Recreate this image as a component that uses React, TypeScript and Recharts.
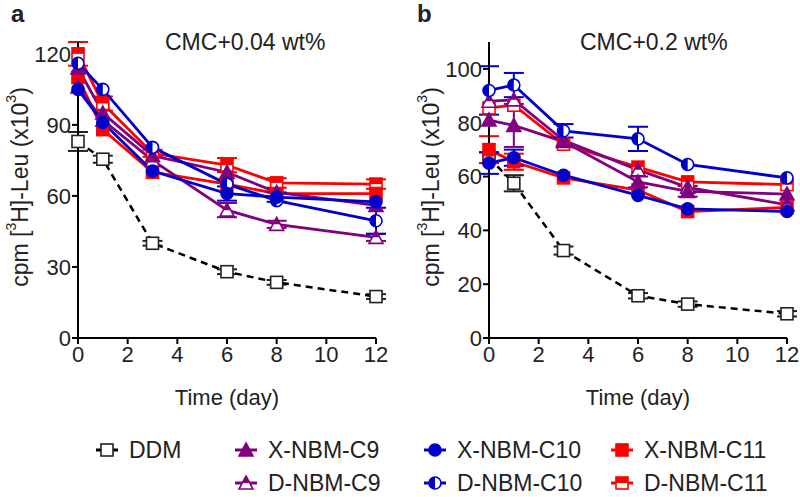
import React from 'react'
import { LineChart, Line, XAxis, YAxis, ErrorBar } from 'recharts'

const FONT = 'Arial, "Liberation Sans", sans-serif'

const days = [0, 1, 3, 6, 8, 12]
const xTicks = [0, 2, 4, 6, 8, 10, 12]

// panel a — CMC+0.04 wt%
const ticksA = [0, 30, 60, 90, 120]
const ddmA = [83, 75.5, 40, 28, 23.5, 17.5]
const xc9A = [114, 95, 77, 70, 61.5, 56]
const dc9A = [106, 92, 75, 54, 48, 42.5]
const xc10A = [105, 91, 70.5, 61, 59.5, 57.5]
const dc10A = [116, 105, 80.5, 65, 58, 49.5]
const xc11A = [110, 88, 70, 65, 61, 61]
const dc11A = [120, 99, 78, 73, 65.5, 65]
const errDdmA = [4, 1.5, 1, 1, 1, 1]
const errDc9A = [null, null, null, 3, 1.5, 1.5]
const errXc10A = [null, null, null, 3, 2, null]
const errDc10A = [null, null, null, null, null, 5.5]
const errDc11A = [5, 3, 1.5, 3, 2, 2]

// panel b — CMC+0.2 wt%
const ticksB = [0, 20, 40, 60, 80, 100]
const ddmB = [67, 57.5, 32.5, 15.7, 12.6, 9]
const xc9B = [81, 79, 73, 58, 54.5, 53.5]
const dc9B = [88, 88.5, 73.5, 62.5, 56, 49.5]
const xc10B = [65, 67, 60.5, 53, 48, 47]
const dc10B = [92, 94, 77, 74, 64.5, 59.5]
const xc11B = [70, 65.5, 59.5, 55, 47, 48.5]
const dc11B = [85.5, 86.5, 72, 63.5, 58, 57]
const errDdmB = [2, 3, 1.5, 1, 1, 1]
const errXc9B = [null, 8, null, 2, 2, null]
const errXc10B = [4, 3, null, null, null, null]
const errDc10B = [9, 4.5, 2.5, 4.5, null, null]
const errXc11B = [5, 3, null, null, null, null]

const PURPLE = '#800080'
const BLUE = '#0000cc'
const RED = '#ff0000'

type Shape = 'square' | 'circle' | 'triangle'

function Marker({ cx, cy, shape, color, half, open }: any) {
  if (cx == null || cy == null) return null
  const r = 6
  if (shape === 'square') {
    return (
      <g>
        <rect x={cx - r} y={cy - r} width={2 * r} height={2 * r} fill={open || half ? '#fff' : color} stroke={color} strokeWidth={1.6} />
        {half && <rect x={cx - r} y={cy - r} width={2 * r} height={r} fill={color} />}
      </g>
    )
  }
  if (shape === 'circle') {
    return (
      <g>
        <circle cx={cx} cy={cy} r={r} fill={half ? '#fff' : color} stroke={color} strokeWidth={1.6} />
        {half && <path d={`M${cx},${cy - r} A${r},${r} 0 0 0 ${cx},${cy + r} Z`} fill={color} />}
      </g>
    )
  }
  const t = r + 1
  return (
    <g>
      <polygon points={`${cx},${cy - t} ${cx + t},${cy + r} ${cx - t},${cy + r}`} fill={half ? '#fff' : color} stroke={color} strokeWidth={1.6} />
      {half && <polygon points={`${cx},${cy - t} ${cx + t / 2},${cy} ${cx - t / 2},${cy}`} fill={color} />}
    </g>
  )
}

function YLabel({ viewBox }: any) {
  const x = viewBox.x + viewBox.width - 58
  const y = viewBox.y + viewBox.height / 2 - 3
  return (
    <text x={x} y={y} transform={`rotate(-90 ${x} ${y})`} textAnchor="middle" dominantBaseline="central" fontSize={23} fontFamily={FONT} fill="#222">
      cpm [<tspan dy={-9} fontSize={14}>3</tspan><tspan dy={9}>H]-Leu (x10</tspan><tspan dy={-9} fontSize={14}>3</tspan><tspan dy={9}>)</tspan>
    </text>
  )
}

interface Series {
  key: string
  values: number[]
  errors?: (number | null)[]
  color: string
  shape: Shape
  half?: boolean
  dashed?: boolean
}

function Panel({ series, ticks, top, width, marginRight, axisWidth }: { series: Series[]; ticks: number[]; top: number; width: number; marginRight: number; axisWidth: number }) {
  const rows = days.map((d, i) => {
    const row: any = { day: d }
    series.forEach(s => {
      row[s.key] = s.values[i]
      if (s.errors) row[s.key + 'Err'] = s.errors[i]
    })
    return row
  })
  return (
    <LineChart width={width} height={410} data={rows} margin={{ top: 42, right: marginRight, left: 0, bottom: 0 }}>
      <XAxis
        type="number" dataKey="day" domain={[0, 12]} ticks={xTicks} interval={0}
        axisLine={{ stroke: '#000', strokeWidth: 2 }} tickLine={{ stroke: '#000', strokeWidth: 2 }} tickSize={6} tickMargin={2}
        tick={{ fill: '#222', fontSize: 22, fontFamily: FONT }} height={72}
        label={{ value: 'Time (day)', position: 'insideBottom', offset: 5, fill: '#222', fontSize: 22, fontFamily: FONT }}
      />
      <YAxis
        type="number" domain={[0, top]} ticks={ticks} interval={0} width={axisWidth}
        axisLine={{ stroke: '#000', strokeWidth: 2 }} tickLine={{ stroke: '#000', strokeWidth: 2 }} tickSize={6} tickMargin={1}
        tick={{ fill: '#222', fontSize: 22, fontFamily: FONT }}
        label={<YLabel />}
      />
      {series.map(s => (
        <Line
          key={s.key} dataKey={s.key} type="linear" stroke={s.dashed ? '#000' : s.color}
          strokeWidth={s.dashed ? 2.5 : 2.8} strokeDasharray={s.dashed ? '7 5' : undefined}
          isAnimationActive={false} activeDot={false}
          dot={(p: any) => <Marker key={s.key + p.index} cx={p.cx} cy={p.cy} shape={s.shape} color={s.color} half={s.half} open={s.dashed} />}
        >
          {s.errors && <ErrorBar dataKey={s.key + 'Err'} width={10} strokeWidth={2} stroke={s.color} direction="y" />}
        </Line>
      ))}
    </LineChart>
  )
}

function LegendIcon({ shape, color, half, dashed }: any) {
  return (
    <svg width={24} height={16} style={{ display: 'block' }}>
      <line x1={1} y1={8} x2={23} y2={8} stroke={dashed ? '#000' : color} strokeWidth={3} />
      <Marker cx={12} cy={8} shape={shape} color={color} half={half} open={dashed} />
    </svg>
  )
}

const legendItems = [
  { label: 'DDM', x: 95, y: 450, shape: 'square', color: '#222', dashed: true },
  { label: 'X-NBM-C9', x: 234, y: 450, shape: 'triangle', color: PURPLE },
  { label: 'D-NBM-C9', x: 234, y: 483, shape: 'triangle', color: PURPLE, half: true },
  { label: 'X-NBM-C10', x: 423, y: 450, shape: 'circle', color: BLUE },
  { label: 'D-NBM-C10', x: 423, y: 483, shape: 'circle', color: BLUE, half: true },
  { label: 'X-NBM-C11', x: 610, y: 450, shape: 'square', color: RED },
  { label: 'D-NBM-C11', x: 610, y: 483, shape: 'square', color: RED, half: true },
]

export default function App() {
  const seriesA: Series[] = [
    { key: 'ddm', values: ddmA, errors: errDdmA, color: '#222', shape: 'square', dashed: true },
    { key: 'dc11', values: dc11A, errors: errDc11A, color: RED, shape: 'square', half: true },
    { key: 'xc11', values: xc11A, color: RED, shape: 'square' },
    { key: 'dc9', values: dc9A, errors: errDc9A, color: PURPLE, shape: 'triangle', half: true },
    { key: 'xc9', values: xc9A, color: PURPLE, shape: 'triangle' },
    { key: 'dc10', values: dc10A, errors: errDc10A, color: BLUE, shape: 'circle', half: true },
    { key: 'xc10', values: xc10A, errors: errXc10A, color: BLUE, shape: 'circle' },
  ]
  const seriesB: Series[] = [
    { key: 'ddm', values: ddmB, errors: errDdmB, color: '#222', shape: 'square', dashed: true },
    { key: 'dc11', values: dc11B, color: RED, shape: 'square', half: true },
    { key: 'xc11', values: xc11B, errors: errXc11B, color: RED, shape: 'square' },
    { key: 'dc9', values: dc9B, color: PURPLE, shape: 'triangle', half: true },
    { key: 'xc9', values: xc9B, errors: errXc9B, color: PURPLE, shape: 'triangle' },
    { key: 'dc10', values: dc10B, errors: errDc10B, color: BLUE, shape: 'circle', half: true },
    { key: 'xc10', values: xc10B, errors: errXc10B, color: BLUE, shape: 'circle' },
  ]
  return (
    <div style={{ position: 'absolute', left: 0, top: 0, width: 800, height: 497, background: '#fff', fontFamily: FONT, color: '#222', overflow: 'hidden' }}>
      <div style={{ position: 'absolute', left: 0, top: 0 }}>
        <Panel series={seriesA} ticks={ticksA} top={125} width={400} marginRight={24} axisWidth={78} />
      </div>
      <div style={{ position: 'absolute', left: 400, top: 0 }}>
        <Panel series={seriesB} ticks={ticksB} top={110} width={400} marginRight={13} axisWidth={89} />
      </div>
      <div style={{ position: 'absolute', left: 11, top: 0, fontSize: 24, fontWeight: 'bold' }}>a</div>
      <div style={{ position: 'absolute', left: 417, top: 0, fontSize: 24, fontWeight: 'bold' }}>b</div>
      <div style={{ position: 'absolute', left: 165, top: 29, fontSize: 23 }}>CMC+0.04 wt%</div>
      <div style={{ position: 'absolute', left: 580, top: 29, fontSize: 23 }}>CMC+0.2 wt%</div>
      {legendItems.map(it => (
        <div key={it.label} style={{ position: 'absolute', left: it.x, top: it.y - 14, height: 28, display: 'flex', alignItems: 'center', fontSize: 23 }}>
          <LegendIcon shape={it.shape} color={it.color} half={it.half} dashed={it.dashed} />
          <span style={{ marginLeft: 10 }}>{it.label}</span>
        </div>
      ))}
    </div>
  )
}
